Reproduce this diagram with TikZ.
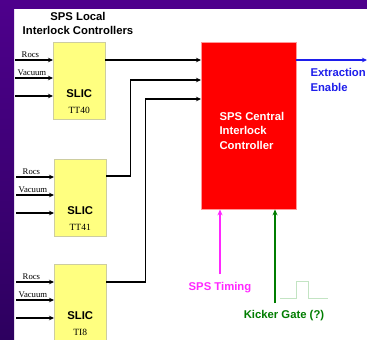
\documentclass[tikz,border=0pt]{standalone}
\usepackage{fontspec}
\setmainfont{Liberation Serif}
\setsansfont{Liberation Sans}
\usetikzlibrary{arrows.meta, positioning, calc}

\definecolor{slideviolet}{RGB}{78,0,140}
\definecolor{slidevioletdark}{RGB}{45,0,95}
\definecolor{slicyellow}{RGB}{255,255,128}
\definecolor{slicedge}{RGB}{205,205,160}
\definecolor{cicred}{RGB}{255,0,0}
\definecolor{enableblue}{RGB}{30,30,235}
\definecolor{timingpink}{RGB}{255,40,255}
\definecolor{kickgreen}{RGB}{0,125,0}
\definecolor{pulsegreen}{RGB}{195,228,195}

\begin{document}
\begin{tikzpicture}[x=1pt, y=-1pt,
    bigfont/.style={font=\fontsize{11.3}{14.5}\selectfont\sffamily\bfseries},
    slicbox/.style={draw=slicedge, fill=slicyellow, minimum width=52pt, minimum height=77pt, inner sep=0pt, anchor=north west},
    cicbox/.style={draw=red!40, fill=cicred, minimum width=95pt, minimum height=167pt, inner sep=0pt, anchor=north west},
    sig/.style={font=\fontsize{8.7}{10}\selectfont, inner sep=0.5pt, anchor=south west},
    wire/.style={line width=1.1pt, -{Stealth[length=5pt,width=4.5pt]}},
    ]
  % slide background
  \useasboundingbox (0,0) rectangle (367,340);
  \fill[white] (0,0) rectangle (367,340);
  \fill[slideviolet] (0,0) rectangle (367,9);
  \shade[top color=slideviolet, bottom color=slidevioletdark] (0,0) rectangle (14,340);

  % title of the local controllers
  \node[bigfont, align=center] (title) at (78,23.5) {SPS Local\\Interlock Controllers};

  % local controllers
  \node[slicbox] (tt40) at (53,42) {};
  \node[slicbox] (tt41) at (54,159) {};
  \node[slicbox] (ti8) at (54,264) {};
  \foreach \b/\t in {tt40/TT40, tt41/TT41, ti8/TI8} {
    \node[bigfont] (\b-name) at ([yshift=-52pt]\b.north) {SLIC};
    \node[font=\fontsize{9.5}{11}\selectfont] (\b-tag) at ([yshift=-68pt]\b.north) {\t};
    \draw[wire] ([xshift=-38pt,yshift=-18pt]\b.north west) -- ([yshift=-18pt]\b.north west);
    \draw[wire] ([xshift=-38pt,yshift=-36pt]\b.north west) -- ([yshift=-36pt]\b.north west);
    \draw[wire] ([xshift=-38pt,yshift=-54pt]\b.north west) -- ([yshift=-54pt]\b.north west);
    \node[sig] (\b-rocs) at ([xshift=-32pt,yshift=-16pt]\b.north west) {Rocs};
    \node[sig] (\b-vac) at ([xshift=-36pt,yshift=-34pt]\b.north west) {Vacuum};
  }

  % central controller
  \node[cicbox] (sic) at (201,42) {};
  \node[bigfont, align=left, text=white, anchor=west] (sic-name) at (216,130.5) {SPS Central\\Interlock\\Controller};

  % links to the central controller
  \draw[wire] ([yshift=-18pt]tt40.north east) -- ([yshift=-18pt]sic.north west);
  \draw[wire] ([yshift=-17pt]tt41.north east) -- ++(24pt,0pt) |- ([yshift=-38pt]sic.north west);
  \draw[wire] ([yshift=-18pt]ti8.north east) -- ++(39pt,0pt) |- ([yshift=-57pt]sic.north west);

  % extraction enable
  \coordinate (enable) at (367,60);
  \draw[enableblue, line width=1.1pt, -{Stealth[length=5pt,width=4.5pt]}] ([yshift=-18pt]sic.north east) -- (enable);
  \node[bigfont, text=enableblue, align=left, anchor=west] (enable-label) at (307,80) {Extraction\\Enable};

  % timing and kicker gate
  \coordinate (timing) at (220,274);
  \coordinate (kicker) at (275,303);
  \draw[timingpink, line width=1.6pt, -{Stealth[length=6pt,width=5pt]}] (timing) -- (timing |- sic.south);
  \draw[kickgreen, line width=1.3pt, -{Stealth[length=6pt,width=5pt]}] (kicker) -- (kicker |- sic.south);
  \node[bigfont, text=timingpink] (timing-label) at (220,288) {SPS Timing};
  \node[bigfont, text=kickgreen] (kicker-label) at (284,316) {Kicker Gate (?)};
  \draw[pulsegreen, line width=0.9pt] (280,298) -- (296,298) -- (296,281) -- (308,281) -- (308,298) -- (328,298);
\end{tikzpicture}
\end{document}
